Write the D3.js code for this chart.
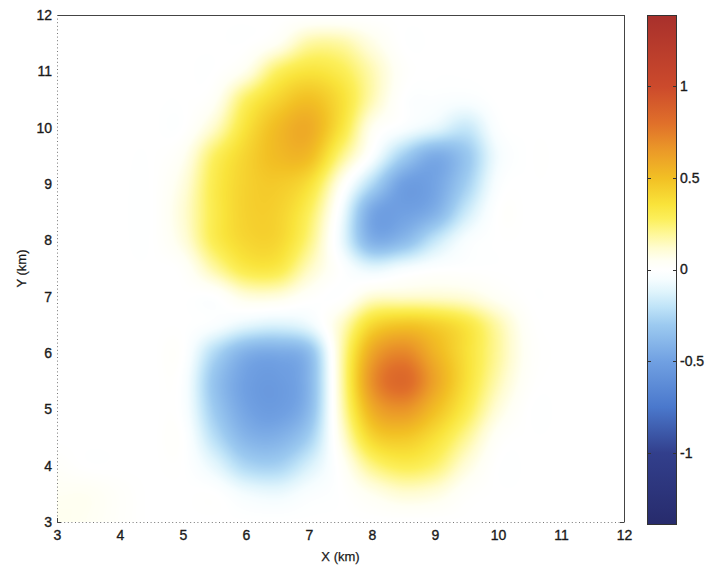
<!DOCTYPE html>
<html>
<head>
<meta charset="utf-8">
<script src="https://cdn.jsdelivr.net/npm/d3@7"></script>
<style>
  html, body { margin: 0; padding: 0; background: #ffffff; }
  svg { display: block; font-family: "Liberation Sans", Arial, Helvetica, sans-serif; }
</style>
</head>
<body>
<svg id="chart" width="707" height="572"></svg>
<script>
// Grid node positions (km)
const gridX = [3, 3.5, 4, 4.5, 5, 5.5, 6, 6.5, 7, 7.5, 8, 8.5, 9, 9.5, 10, 10.5, 11, 11.5, 12];
const gridY = [12, 11.5, 11, 10.5, 10, 9.5, 9, 8.5, 8, 7.5, 7, 6.5, 6, 5.5, 5, 4.5, 4, 3.5, 3];

// Field values on the grid, one row per gridY entry (north to south)
const field = [
  /* 12.0 */ [0, 0, 0, 0, 0, 0, 0, 0, 0, 0, 0, 0, 0, 0, 0, 0, 0, 0, 0],
  /* 11.5 */ [0, 0, 0, 0, 0, 0, 0, 0.05, 0.18, 0.18, 0.08, 0, 0, 0, 0, 0, 0, 0, 0],
  /* 11.0 */ [0, 0, 0, 0, 0, 0, 0.07, 0.27, 0.35, 0.3, 0.16, 0.02, 0, 0, 0, 0, 0, 0, 0],
  /* 10.5 */ [0, 0, 0, 0, 0, 0.04, 0.27, 0.42, 0.5, 0.38, 0.16, 0, -0.02, -0.03, 0, 0, 0, 0, 0],
  /* 10.0 */ [0, 0, 0, 0, 0, 0.13, 0.36, 0.52, 0.58, 0.36, 0.06, -0.03, -0.1, -0.18, -0.02, 0, 0, 0, 0],
  /*  9.5 */ [0, 0, 0, 0, 0.05, 0.27, 0.42, 0.52, 0.52, 0.23, -0.02, -0.28, -0.44, -0.32, -0.06, 0, 0, 0, 0],
  /*  9.0 */ [0, 0, 0, 0, 0.09, 0.31, 0.43, 0.46, 0.37, 0.06, -0.24, -0.5, -0.48, -0.28, -0.03, 0, 0, 0, 0],
  /*  8.5 */ [0, 0, 0, 0, 0.11, 0.31, 0.43, 0.43, 0.28, -0.04, -0.46, -0.5, -0.42, -0.17, 0, 0, 0, 0, 0],
  /*  8.0 */ [0, 0, 0, 0, 0.09, 0.3, 0.41, 0.41, 0.23, -0.07, -0.42, -0.38, -0.19, -0.04, 0, 0, 0, 0, 0],
  /*  7.5 */ [0, 0, 0, 0, 0.02, 0.18, 0.32, 0.32, 0.14, 0, -0.1, -0.05, -0.01, 0, 0, 0, 0, 0, 0],
  /*  7.0 */ [0, 0, 0, 0, 0, 0, 0.09, 0.09, 0.02, 0, 0.11, 0.12, 0.12, 0.1, 0.04, 0, 0, 0, 0],
  /*  6.5 */ [0, 0, 0, 0, 0, -0.03, -0.1, -0.13, -0.08, 0.12, 0.4, 0.48, 0.44, 0.34, 0.17, 0.02, 0, 0, 0],
  /*  6.0 */ [0, 0, 0, 0, 0, -0.24, -0.42, -0.45, -0.36, 0.15, 0.6, 0.72, 0.55, 0.37, 0.19, 0.03, 0, 0, 0],
  /*  5.5 */ [0, 0, 0, 0, -0.02, -0.33, -0.5, -0.53, -0.4, 0.15, 0.68, 0.84, 0.61, 0.37, 0.16, 0.02, 0, 0, 0],
  /*  5.0 */ [0, 0, 0, 0, -0.02, -0.3, -0.48, -0.52, -0.38, 0.13, 0.57, 0.67, 0.51, 0.31, 0.1, 0, 0, 0, 0],
  /*  4.5 */ [0, 0, 0, 0, 0, -0.22, -0.4, -0.42, -0.28, 0.08, 0.41, 0.47, 0.37, 0.2, 0.03, 0, 0, 0, 0],
  /*  4.0 */ [0.02, 0, 0, 0, 0, -0.1, -0.25, -0.27, -0.14, 0.02, 0.22, 0.3, 0.25, 0.1, 0, 0, 0, 0, 0],
  /*  3.5 */ [0.05, 0.05, 0.02, 0, 0, 0, -0.06, -0.08, -0.03, 0, 0.06, 0.11, 0.09, 0.02, 0, 0, 0, 0, 0],
  /*  3.0 */ [0.06, 0.05, 0.02, 0, 0, 0, 0, 0, 0, 0, 0, 0, 0, 0, 0, 0, 0, 0, 0]
];

// Axis ticks
const xTicks = [3, 4, 5, 6, 7, 8, 9, 10, 11, 12];
const yTicks = [3, 4, 5, 6, 7, 8, 9, 10, 11, 12];
const cbarTicks = [-1, -0.5, 0, 0.5, 1];

// Colour limits and diverging colormap stops
const colorLimits = [-1.39, 1.39];
const colorStops = [-1.39, -1.0, -0.75, -0.5, -0.3, -0.2, -0.12, -0.05, 0, 0.05, 0.12, 0.2, 0.28, 0.36, 0.5, 0.65, 0.8, 1.0, 1.39];
const colorHexes = ["#272b6c", "#323f8c", "#4a78cc", "#70a0e2", "#9ccaf0", "#c0e4f8", "#dff4fc", "#f6fdff", "#ffffff",
                    "#fffff4", "#fffcd0", "#fef796", "#fcef5a", "#f9e33a", "#f2c024", "#eb9a28", "#e0702a", "#cc4a2c", "#a8302c"];

const svg = d3.select("#chart");
const plot = { left: 57, right: 624, top: 15, bottom: 522 };
const cbar = { left: 647, right: 676, top: 15, bottom: 524 };
const fontStack = "\"Liberation Sans\", Arial, Helvetica, sans-serif";

const x = d3.scaleLinear().domain([3, 12]).range([plot.left, plot.right]);
const y = d3.scaleLinear().domain([3, 12]).range([plot.bottom, plot.top]);
const color = d3.scaleLinear().domain(colorStops).range(colorHexes)
  .interpolate(d3.interpolateRgb).clamp(true);

// Smooth (Catmull-Rom bicubic) shading between grid nodes
function cr(p0, p1, p2, p3, t) {
  return p1 + 0.5 * t * (p2 - p0 + t * (2 * p0 - 5 * p1 + 4 * p2 - p3 + t * (3 * (p1 - p2) + p3 - p0)));
}
const nx = gridX.length, ny = gridY.length;
function node(i, j) {
  i = Math.max(0, Math.min(nx - 1, i));
  j = Math.max(0, Math.min(ny - 1, j));
  return field[j][i];
}
function sample(xv, yv) {
  const fx = (xv - gridX[0]) / (gridX[1] - gridX[0]);
  const fy = (yv - gridY[0]) / (gridY[1] - gridY[0]);
  const i = Math.floor(fx), j = Math.floor(fy);
  const tx = fx - i, ty = fy - j;
  const r = [];
  for (let m = -1; m <= 2; m++) {
    r.push(cr(node(i - 1, j + m), node(i, j + m), node(i + 1, j + m), node(i + 2, j + m), tx));
  }
  return cr(r[0], r[1], r[2], r[3], ty);
}

// Colour lookup table
const lutN = 1024;
const lut = [];
for (let k = 0; k < lutN; k++) {
  const v = colorLimits[0] + (colorLimits[1] - colorLimits[0]) * k / (lutN - 1);
  const c = d3.rgb(color(v));
  lut.push([c.r, c.g, c.b]);
}

// Rasterise the field into an image
const pw = plot.right - plot.left, ph = plot.bottom - plot.top;
const canvas = document.createElement("canvas");
canvas.width = pw; canvas.height = ph;
const ctx = canvas.getContext("2d");
const img = ctx.createImageData(pw, ph);
for (let py = 0; py < ph; py++) {
  const yv = y.invert(plot.top + py + 0.5);
  for (let px = 0; px < pw; px++) {
    const xv = x.invert(plot.left + px + 0.5);
    const v = sample(xv, yv);
    let k = Math.round((v - colorLimits[0]) / (colorLimits[1] - colorLimits[0]) * (lutN - 1));
    k = Math.max(0, Math.min(lutN - 1, k));
    const o = (py * pw + px) * 4;
    img.data[o] = lut[k][0]; img.data[o + 1] = lut[k][1]; img.data[o + 2] = lut[k][2]; img.data[o + 3] = 255;
  }
}
ctx.putImageData(img, 0, 0);

svg.append("image")
  .attr("x", plot.left).attr("y", plot.top)
  .attr("width", pw).attr("height", ph)
  .attr("preserveAspectRatio", "none")
  .attr("href", canvas.toDataURL());

// Plot frame: solid top/right, dotted left/bottom
const frame = svg.append("g").attr("fill", "none");
frame.append("line").attr("x1", plot.left).attr("x2", plot.right).attr("y1", plot.top + 0.5).attr("y2", plot.top + 0.5)
  .attr("stroke", "#444").attr("stroke-width", 1);
frame.append("line").attr("x1", plot.right + 0.5).attr("x2", plot.right + 0.5).attr("y1", plot.top).attr("y2", plot.bottom)
  .attr("stroke", "#444").attr("stroke-width", 1);
frame.append("line").attr("x1", plot.left + 0.5).attr("x2", plot.left + 0.5).attr("y1", plot.top).attr("y2", plot.bottom)
  .attr("stroke", "#777").attr("stroke-width", 1).attr("stroke-dasharray", "1,2.6");
frame.append("line").attr("x1", plot.left).attr("x2", plot.right).attr("y1", plot.bottom + 0.5).attr("y2", plot.bottom + 0.5)
  .attr("stroke", "#777").attr("stroke-width", 1).attr("stroke-dasharray", "1,2.6");
frame.append("path")
  .attr("d", `M${plot.left + 0.5},${plot.bottom - 4}V${plot.bottom + 0.5}H${plot.left + 4}`)
  .attr("stroke", "#444").attr("stroke-width", 1);
frame.append("path")
  .attr("d", `M${plot.right - 4},${plot.bottom + 0.5}H${plot.right + 0.5}`)
  .attr("stroke", "#444").attr("stroke-width", 1);

// Axes
const xAxis = svg.append("g")
  .attr("transform", `translate(0,${plot.bottom})`)
  .call(d3.axisBottom(x).tickValues(xTicks).tickSize(0).tickPadding(8).tickFormat(d3.format("d")));
const yAxis = svg.append("g")
  .attr("transform", `translate(${plot.left},0)`)
  .call(d3.axisLeft(y).tickValues(yTicks).tickSize(0).tickPadding(5).tickFormat(d3.format("d")));
[xAxis, yAxis].forEach(g => {
  g.select(".domain").remove();
  g.selectAll("text").attr("font-size", 14).attr("fill", "#1a1a1a")
    .attr("stroke", "#1a1a1a").attr("stroke-width", 0.35)
    .attr("font-family", fontStack);
});

// Axis titles
svg.append("text")
  .attr("x", (plot.left + plot.right) / 2).attr("y", 561)
  .attr("text-anchor", "middle").attr("font-size", 13).attr("fill", "#1a1a1a")
  .attr("stroke", "#1a1a1a").attr("stroke-width", 0.25)
  .text("X (km)");
svg.append("text")
  .attr("transform", `translate(26,${(plot.top + plot.bottom) / 2}) rotate(-90)`)
  .attr("text-anchor", "middle").attr("font-size", 13).attr("fill", "#1a1a1a")
  .attr("stroke", "#1a1a1a").attr("stroke-width", 0.25)
  .text("Y (km)");

// Colorbar
const cy = d3.scaleLinear().domain(colorLimits).range([cbar.bottom, cbar.top]);
const grad = svg.append("defs").append("linearGradient")
  .attr("id", "cbarGrad").attr("x1", 0).attr("y1", 1).attr("x2", 0).attr("y2", 0);
colorStops.forEach((s, i) => {
  grad.append("stop")
    .attr("offset", (s - colorLimits[0]) / (colorLimits[1] - colorLimits[0]))
    .attr("stop-color", colorHexes[i]);
});
svg.append("rect")
  .attr("x", cbar.left + 0.5).attr("y", cbar.top + 0.5)
  .attr("width", cbar.right - cbar.left).attr("height", cbar.bottom - cbar.top)
  .attr("fill", "url(#cbarGrad)").attr("stroke", "#333").attr("stroke-width", 1);

const cTicks = svg.append("g");
cbarTicks.forEach(t => {
  const yy = Math.round(cy(t)) + 0.5;
  cTicks.append("line").attr("x1", cbar.left).attr("x2", cbar.left + 4).attr("y1", yy).attr("y2", yy)
    .attr("stroke", "#333");
  cTicks.append("line").attr("x1", cbar.right - 3).attr("x2", cbar.right + 1).attr("y1", yy).attr("y2", yy)
    .attr("stroke", "#333");
});
const cAxis = svg.append("g")
  .attr("transform", `translate(${cbar.right},0)`)
  .call(d3.axisRight(cy).tickValues(cbarTicks).tickSize(0).tickPadding(4).tickFormat(d => String(d)));
cAxis.select(".domain").remove();
cAxis.selectAll("text").attr("font-size", 14).attr("fill", "#1a1a1a")
  .attr("stroke", "#1a1a1a").attr("stroke-width", 0.35)
  .attr("font-family", fontStack);
</script>
</body>
</html>
